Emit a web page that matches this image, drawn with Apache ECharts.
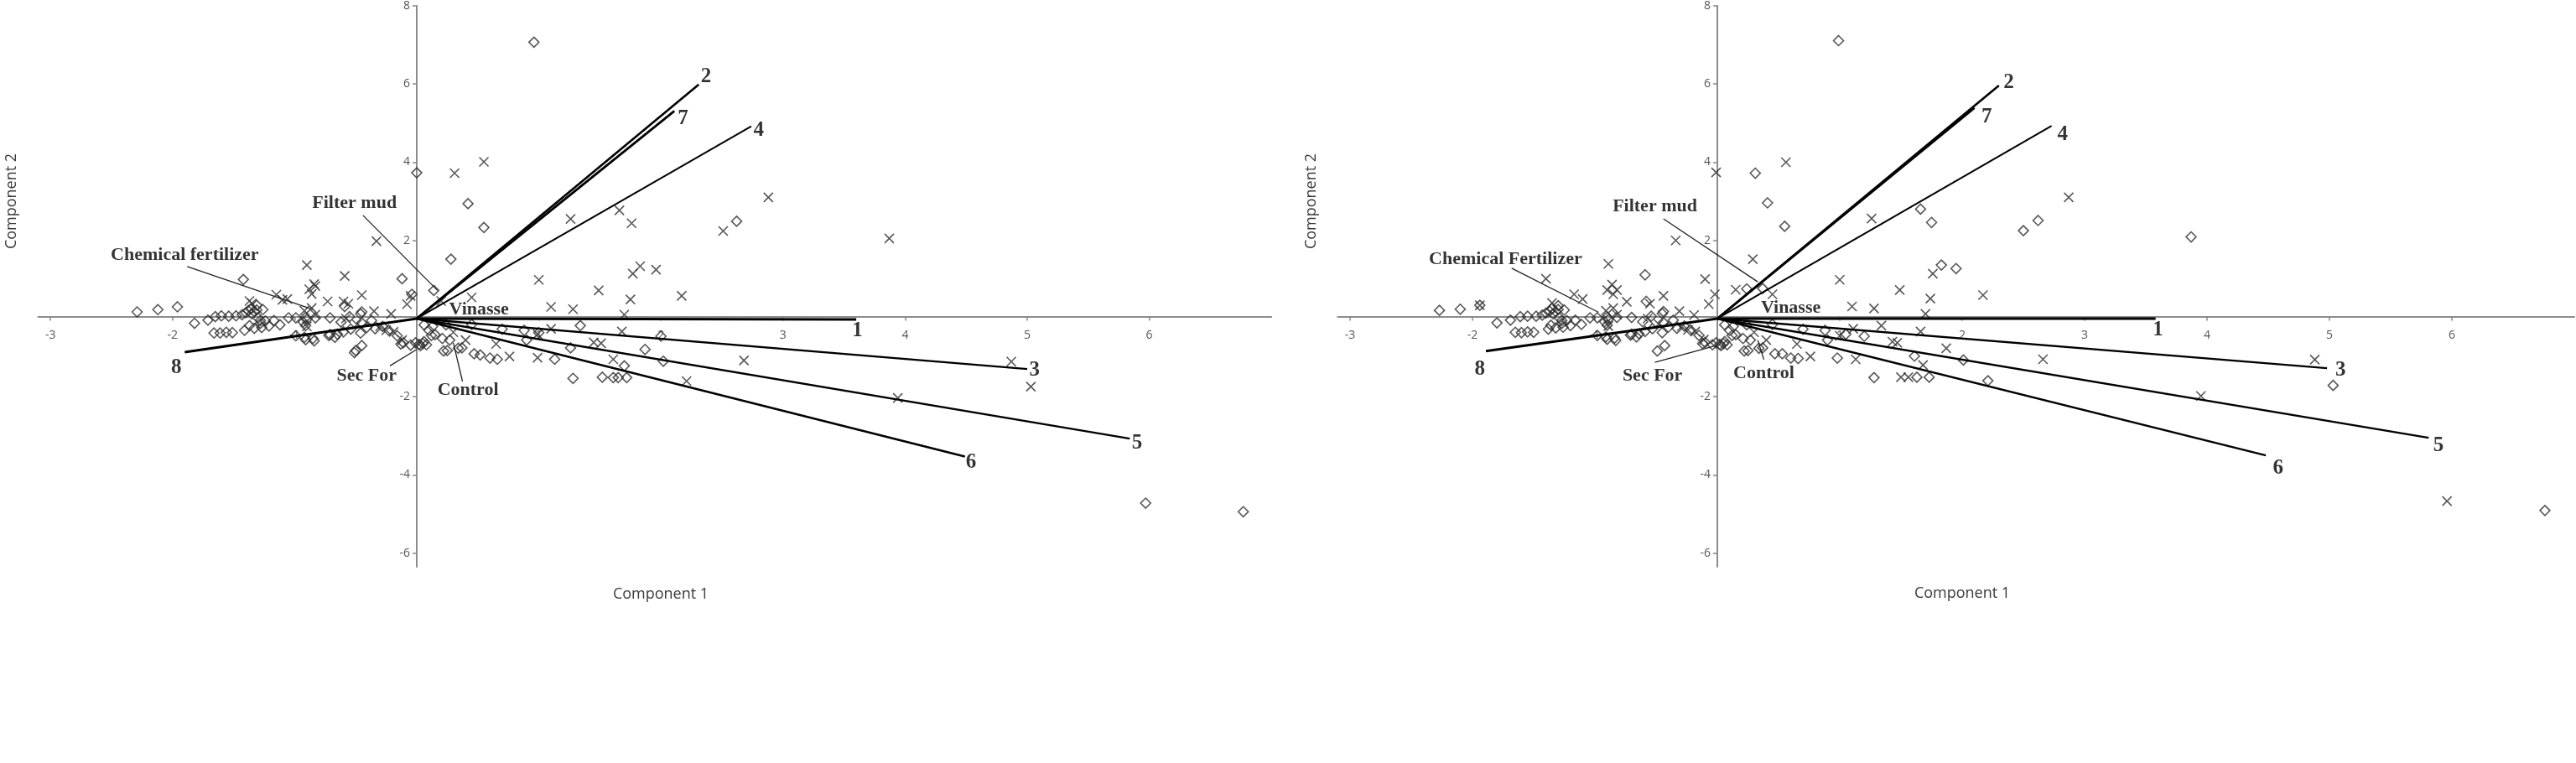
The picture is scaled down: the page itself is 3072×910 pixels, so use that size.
<!DOCTYPE html>
<html>
<head>
<meta charset="utf-8">
<script src="https://cdn.jsdelivr.net/npm/echarts@6/dist/echarts.min.js"></script>
<style>
  html, body { margin: 0; padding: 0; background: #fff; }
  #main { width: 3072px; height: 910px; }
</style>
</head>
<body>
<div id="main"></div>
<script>
// ---- axis ticks ----
var xTicks = [-3, -2, -1, 1, 2, 3, 4, 5, 6];
var yTicks = [-6, -4, -2, 2, 4, 6, 8];

// ---- left panel ----
var leftDiamonds = [
  [-2.29,0.17],[-2.12,0.23],[-1.96,0.30],[-1.82,-0.12],[-1.71,-0.04],[-1.65,0.05],[-1.60,0.07],[-1.54,0.06],[-1.48,0.07],
  [-1.43,0.10],[-1.40,0.15],[-1.38,0.20],[-1.36,0.25],[-1.33,0.18],[-1.31,0.22],[-1.35,0.12],[-1.31,0.34],[-1.26,0.23],
  [-1.66,-0.37],[-1.61,-0.37],[-1.56,-0.35],[-1.51,-0.36],[-1.41,-0.30],[-1.37,-0.18],[-1.33,-0.25],[-1.28,-0.12],
  [-1.24,-0.06],[-1.30,0.02],[-1.42,1.00],
  [-1.28,-0.05],[-1.21,-0.19],[-1.27,-0.23],[-1.17,-0.05],[-1.12,-0.16],[-1.05,0.02],[-0.99,0.02],[-0.93,-0.09],
  [-0.90,-0.02],[-0.83,0.02],[-0.99,-0.44],[-0.92,-0.48],[-0.85,-0.51],[-0.71,-0.41],[-0.67,-0.48],[-0.60,-0.34],
  [-0.54,-0.27],[-0.46,-0.37],[-0.41,-0.23],[-0.71,0.02],[-0.62,-0.09],[-0.55,0.05],[-0.46,0.12],[-0.37,-0.05],
  [-0.28,-0.20],[-0.23,-0.30],[-0.16,-0.44],[-0.11,-0.62],[-0.51,-0.87],[-0.45,-0.69],[-0.91,-0.18],[-0.91,0.03],
  [-0.91,-0.54],[-0.84,-0.57],[-0.59,0.31],[-0.45,0.17],[-0.45,-0.11],[-0.34,-0.26],[-0.50,-0.82],[-0.72,-0.43],
  [-0.65,-0.40],[-0.13,-0.65],[-0.05,-0.68],[-0.12,1.02],[-0.04,0.62],[0.14,0.72],
  [0.02,-0.66],[0.06,-0.59],[-0.01,-0.62],[0.03,-0.69],[0.05,-0.64],[0.08,-0.67],[0.10,-0.30],[0.15,-0.41],
  [0.21,-0.51],[0.27,-0.55],[0.22,-0.83],[0.34,-0.76],[0.47,-0.90],[0.60,-1.01],[0.06,-0.16],[0.13,-0.20],
  [0.24,-0.16],[0.12,-0.43],[0.25,-0.82],[0.37,-0.75],[0.52,-0.93],[0.66,-1.04],[0.70,-0.27],[0.45,-0.15],
  [0.88,-0.30],[1.00,-0.36],[0.90,-0.55],[1.34,-0.18],[1.26,-0.75],[1.13,-1.04],[1.28,-1.53],[1.52,-1.50],
  [1.61,-1.51],[1.65,-1.51],[1.72,-1.51],[1.70,-1.21],[1.87,-0.79],[2.00,-0.45],[2.02,-1.09],
  [0.00,3.73],[0.42,2.94],[0.55,2.33],[0.28,1.52],[2.62,2.49],[0.96,7.07],[5.97,-4.72],[6.77,-4.94]
];
var leftCrosses = [
  [-1.35,0.39],[-1.37,0.45],[-1.15,0.61],[-1.10,0.48],[-1.06,0.50],[-0.90,1.37],[-0.59,1.09],[-0.84,0.88],
  [-0.88,0.75],[-0.83,0.83],[-0.86,0.63],[-0.73,0.44],[-0.60,0.44],[-0.45,0.60],[-0.56,0.38],[-0.33,1.98],
  [-0.35,0.19],[-0.21,0.12],[-0.08,0.37],[-0.05,0.58],[-0.86,0.27],[-0.92,0.20],[-0.83,0.10],[-0.30,-0.20],
  [-0.19,-0.34],[-0.12,-0.55],[-0.49,-0.15],[-0.58,0.00],[-0.90,-0.20],[-0.25,-0.30],
  [0.31,3.72],[0.55,4.01],[1.26,2.55],[1.66,2.77],[1.76,2.44],[2.51,2.24],[1.83,1.34],[1.77,1.15],[1.96,1.25],
  [1.00,0.99],[1.49,0.72],[1.75,0.49],[2.17,0.58],[1.10,0.30],[1.28,0.24],[1.70,0.10],[0.45,0.54],[0.20,0.45],
  [1.68,-0.33],[1.10,-0.26],[0.99,-0.40],[1.45,-0.61],[1.51,-0.63],[0.65,-0.65],[0.76,-0.97],[0.99,-1.00],
  [1.61,-1.04],[2.68,-1.07],[2.21,-1.60],[0.30,-0.35],[0.40,-0.55],
  [2.88,3.10],[3.87,2.05],[4.87,-1.10],[5.03,-1.74],[3.94,-2.03]
];
var vectorNames = ['1', '2', '3', '4', '5', '6', '7', '8'];
var leftVectors = [[3.60,-0.02],[2.31,5.99],[5.00,-1.29],[2.74,4.92],[5.84,-3.07],[4.49,-3.53],[2.11,5.31],[-1.90,-0.86]];
var leftVectorLabelAt = [[3.61,-0.32],[2.37,6.18],[5.06,-1.33],[2.80,4.81],[5.90,-3.18],[4.54,-3.69],[2.18,5.12],[-1.97,-1.26]];
var leftTreatments = ['Chemical fertilizer', 'Filter mud', 'Vinasse', 'Sec For', 'Control'];
var leftTreatmentAt = [[-1.90,1.63],[-0.51,2.96],[0.51,0.23],[-0.41,-1.47],[0.42,-1.84]];
var leftLeaders = [
  [[-1.88,1.33],[-0.85,0.23]],
  [[-0.44,2.64],[0.17,0.72]],
  [[-0.22,-1.21],[0.00,-0.79]],
  [[0.375,-1.61],[0.30,-0.62]]
];

// ---- right panel ----
var rightDiamonds = [
  [-2.27,0.21],[-2.10,0.24],[-1.94,0.34],[-1.80,-0.11],[-1.69,-0.04],[-1.61,0.05],[-1.55,0.06],[-1.48,0.06],
  [-1.43,0.09],[-1.40,0.14],[-1.37,0.19],[-1.35,0.26],[-1.32,0.18],[-1.30,0.23],[-1.34,0.12],[-1.30,0.33],
  [-1.25,0.22],[-1.65,-0.35],[-1.60,-0.36],[-1.55,-0.34],[-1.50,-0.35],[-1.38,-0.27],[-1.36,-0.17],[-1.32,-0.24],
  [-1.27,-0.12],[-1.23,-0.05],[-1.29,0.02],
  [-1.27,-0.05],[-1.20,-0.18],[-1.26,-0.22],[-1.16,-0.04],[-1.11,-0.15],[-1.04,0.02],[-0.98,0.02],[-0.92,-0.08],
  [-0.89,-0.02],[-0.82,0.03],[-0.98,-0.43],[-0.91,-0.47],[-0.84,-0.50],[-0.70,-0.40],[-0.66,-0.47],[-0.59,-0.33],
  [-0.53,-0.26],[-0.45,-0.36],[-0.40,-0.22],[-0.70,0.03],[-0.61,-0.08],[-0.54,0.06],[-0.45,0.13],[-0.36,-0.04],
  [-0.27,-0.19],[-0.22,-0.29],[-0.15,-0.43],[-0.10,-0.61],[-0.49,-0.83],[-0.43,-0.69],[-0.90,-0.17],[-0.90,0.04],
  [-0.90,-0.53],[-0.83,-0.56],[-0.58,0.44],[-0.44,0.18],[-0.44,-0.10],[-0.33,-0.25],[-0.71,-0.42],[-0.64,-0.39],
  [-0.12,-0.64],[-0.04,-0.67],[-0.59,1.12],
  [0.02,-0.66],[0.06,-0.59],[-0.01,-0.62],[0.03,-0.69],[0.05,-0.64],[0.08,-0.67],[0.10,-0.30],[0.15,-0.41],
  [0.21,-0.51],[0.27,-0.55],[0.22,-0.83],[0.34,-0.76],[0.47,-0.90],[0.60,-1.01],[0.06,-0.16],[0.13,-0.20],
  [0.24,-0.16],[0.12,-0.43],[0.25,-0.82],[0.37,-0.75],[0.53,-0.90],[0.66,-1.02],[0.70,-0.27],[0.45,-0.15],
  [0.88,-0.30],[0.98,-1.01],[0.90,-0.55],[1.05,-0.40],[1.20,-0.45],[1.28,-1.51],[1.63,-1.50],[1.73,-1.50],
  [1.61,-0.96],[2.01,-1.06],[2.21,-1.59],
  [0.31,3.72],[0.41,2.96],[0.55,2.36],[0.24,0.76],[0.37,0.77],[1.66,2.80],[1.75,2.46],[2.50,2.25],[2.62,2.51],
  [1.83,1.37],[1.95,1.28],[3.87,2.09],[5.03,-1.71],[0.99,7.11],[6.76,-4.91]
];
var rightCrosses = [
  [-1.94,0.34],[-1.40,1.02],[-1.35,0.40],[-1.17,0.62],[-1.10,0.50],[-0.89,1.40],[-0.90,0.73],[-0.86,0.87],
  [-0.82,0.73],[-0.85,0.62],[-0.74,0.43],[-0.44,0.58],[-0.55,0.38],[-0.34,2.00],[-0.31,0.19],[-0.19,0.09],
  [-0.07,0.37],[-0.10,1.01],[-0.02,0.62],[-0.85,0.27],[-0.91,0.20],[-0.82,0.10],[-0.29,-0.20],[-0.18,-0.33],
  [-0.11,-0.54],[-0.48,-0.14],[-0.57,0.00],[-0.89,-0.19],[-0.24,-0.29],
  [-0.01,3.74],[0.56,4.00],[0.29,1.52],[0.15,0.74],[0.45,0.62],[1.26,2.56],[1.00,0.99],[1.49,0.73],[1.76,1.15],
  [1.74,0.51],[2.17,0.60],[1.10,0.31],[1.28,0.26],[1.70,0.12],[1.34,-0.18],[1.66,-0.33],[1.11,-0.26],[1.00,-0.44],
  [1.47,-0.62],[1.43,-0.59],[1.87,-0.76],[1.68,-1.19],[1.50,-1.50],[1.56,-1.50],[1.13,-1.04],[2.66,-1.04],
  [0.30,-0.35],[0.40,-0.55],[0.65,-0.65],[0.76,-0.97],
  [2.87,3.10],[4.88,-1.05],[3.95,-1.98],[5.96,-4.67]
];
var rightVectors = [[3.58,0.00],[2.30,5.96],[4.98,-1.27],[2.73,4.93],[5.81,-3.05],[4.48,-3.50],[2.10,5.39],[-1.89,-0.83]];
var rightVectorLabelAt = [[3.60,-0.30],[2.38,6.03],[5.09,-1.33],[2.82,4.71],[5.89,-3.25],[4.58,-3.84],[2.20,5.15],[-1.94,-1.29]];
var rightTreatments = ['Chemical Fertilizer', 'Filter mud', 'Vinasse', 'Sec For', 'Control'];
var rightTreatmentAt = [[-1.73,1.51],[-0.51,2.86],[0.60,0.27],[-0.53,-1.47],[0.38,-1.40]];
var rightLeaders = [
  [[-1.68,1.29],[-0.97,0.16]],
  [[-0.44,2.55],[0.33,0.94]],
  [[-0.51,-1.12],[-0.01,-0.69]],
  [[0.38,-1.05],[0.33,-0.55]]
];

var vectorWidth = [3, 2.6, 2.4, 2, 2.4, 2.4, 2.8, 3];
var crossPath = 'path://M0,0L10,10M10,0L0,10';

// plot boxes (pixels) and data extents
var xMin = -3.1, xMax = 7.0, yMin = -6.35, yMax = 8;
var grids = [
  { left: 45.6, top: 1.5, width: 1470.6, height: 674.5 },
  { left: 1595.4, top: 1.5, width: 1474.6, height: 674.5 }
];

function makeAxes(i) {
  var g = grids[i];
  var tickCommon = { show: true, length: 5, lineStyle: { color: '#888', width: 1.5 } };
  var lineCommon = { onZero: false, lineStyle: { color: '#8c8c8c', width: 2 } };
  // put each axis through the other axis's zero
  var xOff = -(0 - yMin) / (yMax - yMin) * g.height;
  var yOff = -(0 - xMin) / (xMax - xMin) * g.width;
  return {
    x: {
      type: 'value', gridIndex: i, min: xMin, max: xMax, position: 'bottom', offset: xOff,
      axisLine: lineCommon,
      axisTick: Object.assign({ customValues: xTicks }, tickCommon),
      axisLabel: { customValues: xTicks, margin: 15, fontFamily: 'Open Sans', fontSize: 14, color: '#555' },
      splitLine: { show: false }
    },
    y: {
      type: 'value', gridIndex: i, min: yMin, max: yMax, position: 'left', offset: yOff,
      axisLine: lineCommon,
      axisTick: Object.assign({ customValues: yTicks }, tickCommon),
      axisLabel: { customValues: yTicks, margin: 8, fontFamily: 'Open Sans', fontSize: 14, color: '#555' },
      splitLine: { show: false }
    }
  };
}

function panelSeries(i, diamonds, crosses, vectors, vecLabelAt, treatments, treatAt, leaders) {
  var s = [];
  s.push({
    type: 'scatter', xAxisIndex: i, yAxisIndex: i, data: diamonds, symbol: 'diamond', symbolSize: 12,
    itemStyle: { color: 'rgba(0,0,0,0)', borderColor: '#2e2e2e', borderWidth: 1.6 }, z: 2
  });
  s.push({
    type: 'scatter', xAxisIndex: i, yAxisIndex: i, data: crosses, symbol: crossPath, symbolSize: 11,
    itemStyle: { color: 'rgba(0,0,0,0)', borderColor: '#2e2e2e', borderWidth: 1.6 }, z: 2
  });
  vectors.forEach(function (v, k) {
    s.push({
      type: 'line', xAxisIndex: i, yAxisIndex: i, data: [[0, 0], v], symbol: 'none',
      lineStyle: { color: '#000', width: vectorWidth[k] }, z: 4
    });
  });
  leaders.forEach(function (l) {
    s.push({
      type: 'line', xAxisIndex: i, yAxisIndex: i, data: l, symbol: 'none',
      lineStyle: { color: '#222', width: 1.3 }, z: 4
    });
  });
  s.push({
    type: 'scatter', xAxisIndex: i, yAxisIndex: i, symbolSize: 1, itemStyle: { color: 'rgba(0,0,0,0)' },
    data: vecLabelAt.map(function (p, k) { return { name: vectorNames[k], value: p }; }),
    label: { show: true, position: 'inside', formatter: '{b}', fontFamily: 'Liberation Serif',
      fontWeight: 'bold', fontSize: 25, color: '#000' }, z: 5
  });
  s.push({
    type: 'scatter', xAxisIndex: i, yAxisIndex: i, symbolSize: 1, itemStyle: { color: 'rgba(0,0,0,0)' },
    data: treatAt.map(function (p, k) { return { name: treatments[k], value: p }; }),
    label: { show: true, position: 'inside', formatter: '{b}', fontFamily: 'Liberation Serif',
      fontWeight: 'bold', fontSize: 22, color: '#000' }, z: 5
  });
  return s;
}

var chart = echarts.init(document.getElementById('main'));
var a0 = makeAxes(0), a1 = makeAxes(1);
var axisTitle = { fontFamily: 'Open Sans', fontSize: 18, fill: '#3a3a3a', textAlign: 'center', textVerticalAlign: 'middle' };

chart.setOption({
  animation: false,
  backgroundColor: '#fff',
  grid: grids,
  xAxis: [a0.x, a1.x],
  yAxis: [a0.y, a1.y],
  graphic: [
    { type: 'text', x: 788, y: 709, style: Object.assign({ text: 'Component 1' }, axisTitle) },
    { type: 'text', x: 2340, y: 708, style: Object.assign({ text: 'Component 1' }, axisTitle) },
    { type: 'text', x: 14, y: 240, rotation: Math.PI / 2, style: Object.assign({ text: 'Component 2' }, axisTitle) },
    { type: 'text', x: 1564, y: 240, rotation: Math.PI / 2, style: Object.assign({ text: 'Component 2' }, axisTitle) }
  ],
  series: panelSeries(0, leftDiamonds, leftCrosses, leftVectors, leftVectorLabelAt, leftTreatments, leftTreatmentAt, leftLeaders)
    .concat(panelSeries(1, rightDiamonds, rightCrosses, rightVectors, rightVectorLabelAt, rightTreatments, rightTreatmentAt, rightLeaders))
});
</script>
</body>
</html>
